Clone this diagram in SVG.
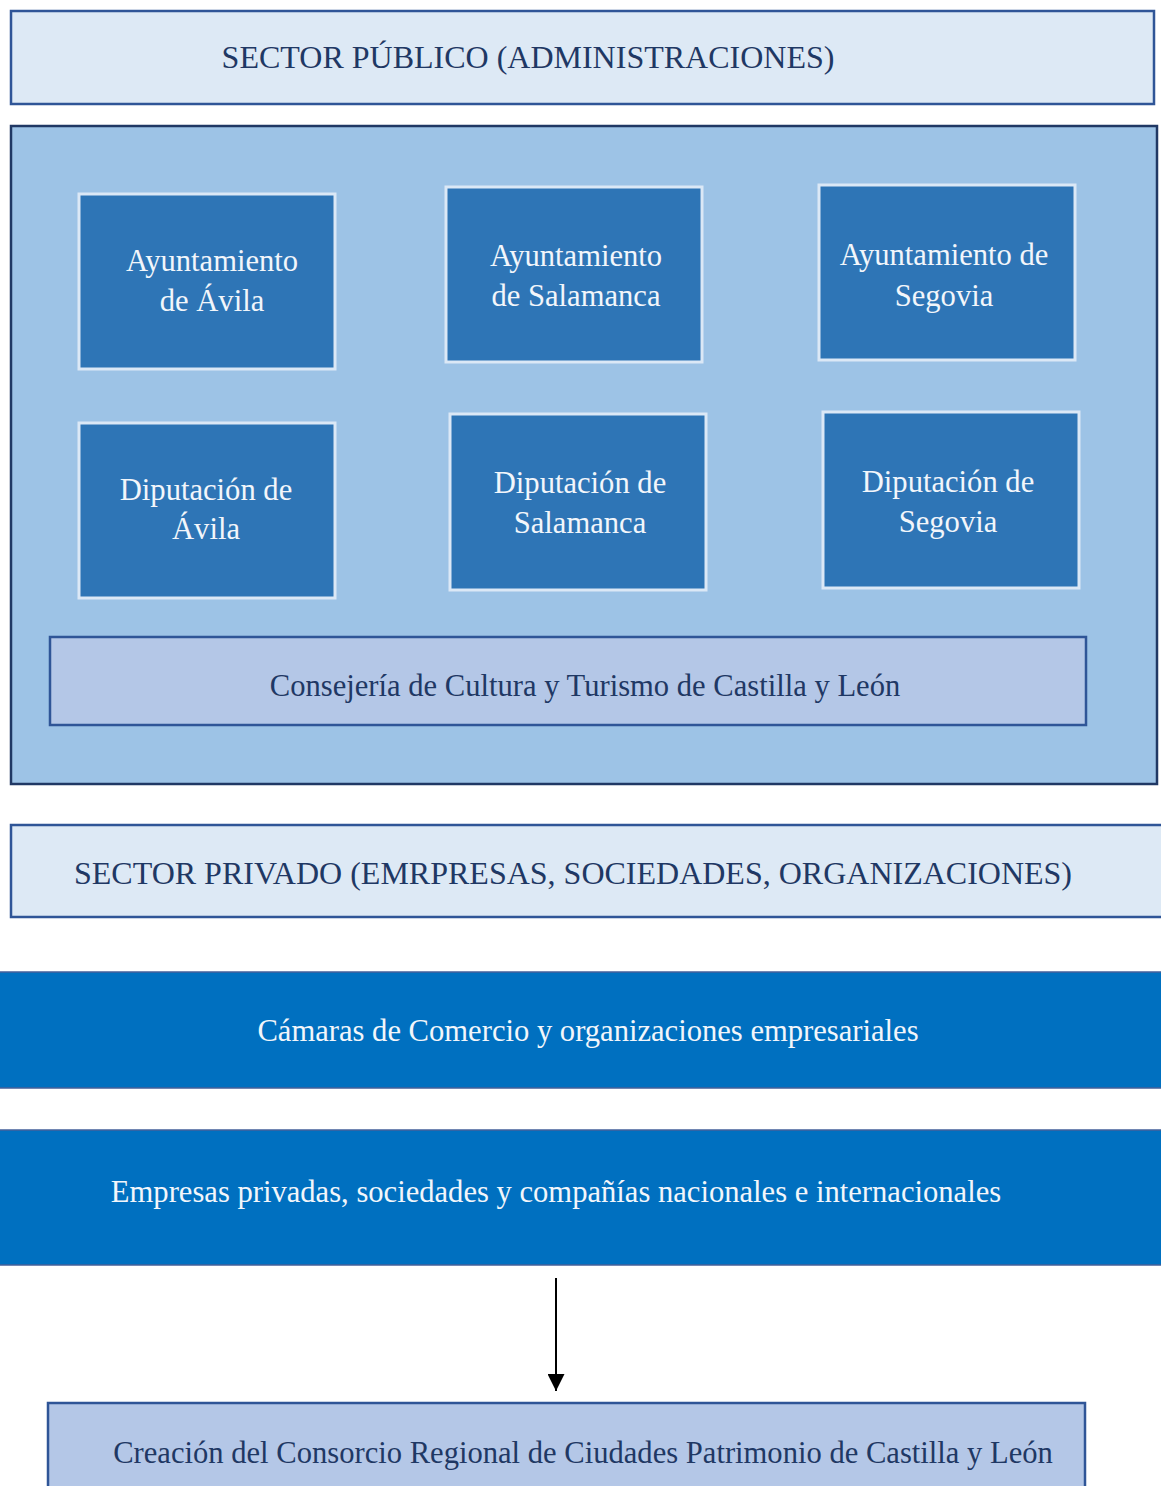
<svg xmlns="http://www.w3.org/2000/svg" width="1161" height="1486" viewBox="0 0 1161 1486">
<defs>
<style>
.hdr{fill:#dde9f5;stroke:#2f5597;stroke-width:2.5}
.inner{fill:#2e75b6;stroke:#dbe8f6;stroke-width:3}
.band{fill:#0070c0;stroke:#44609a;stroke-width:1.5}
.lav{fill:#b4c7e7;stroke:#2f5597;stroke-width:2.5}
.t{font-family:"Liberation Serif","Times New Roman",serif;font-size:30.6px;text-anchor:middle}
.h{font-size:32px}
.dk{fill:#1f3864}
.wt{fill:#f2f6fb}
</style>
<marker id="ah" viewBox="0 0 10 10" refX="10" refY="5" markerWidth="17" markerHeight="17" markerUnits="userSpaceOnUse" orient="auto">
<path d="M0,0 L10,5 L0,10 z" fill="#000"/>
</marker>
</defs>
<rect width="1161" height="1486" fill="#fff"/>
<g id="sector-publico">
<rect class="hdr" x="11" y="11" width="1143" height="93"/>
<text class="t h dk" x="528" y="68">SECTOR PÚBLICO (ADMINISTRACIONES)</text>
</g>
<g id="admin-panel">
<rect x="11" y="126" width="1146" height="658" fill="#9dc3e6" stroke="#203864" stroke-width="2.5"/>
</g>
<g id="ayto-avila">
<rect class="inner" x="79" y="194" width="256" height="175"/>
<text class="t wt" x="212" y="271">Ayuntamiento</text>
<text class="t wt" x="212" y="311">de Ávila</text>
</g>
<g id="ayto-salamanca">
<rect class="inner" x="446" y="187" width="256" height="175"/>
<text class="t wt" x="576" y="266">Ayuntamiento</text>
<text class="t wt" x="576" y="306">de Salamanca</text>
</g>
<g id="ayto-segovia">
<rect class="inner" x="819" y="185" width="256" height="175"/>
<text class="t wt" x="944" y="265">Ayuntamiento de</text>
<text class="t wt" x="944" y="306">Segovia</text>
</g>
<g id="dip-avila">
<rect class="inner" x="79" y="423" width="256" height="175"/>
<text class="t wt" x="206" y="500">Diputación de</text>
<text class="t wt" x="206" y="539">Ávila</text>
</g>
<g id="dip-salamanca">
<rect class="inner" x="450" y="414" width="256" height="176"/>
<text class="t wt" x="580" y="493">Diputación de</text>
<text class="t wt" x="580" y="533">Salamanca</text>
</g>
<g id="dip-segovia">
<rect class="inner" x="823" y="412" width="256" height="176"/>
<text class="t wt" x="948" y="492">Diputación de</text>
<text class="t wt" x="948" y="532">Segovia</text>
</g>
<g id="consejeria">
<rect class="lav" x="50" y="637" width="1036" height="88"/>
<text class="t dk" x="585" y="696">Consejería de Cultura y Turismo de Castilla y León</text>
</g>
<g id="sector-privado">
<rect class="hdr" x="11" y="825" width="1152" height="92"/>
<text class="t h dk" x="573" y="884">SECTOR PRIVADO (EMRPRESAS, SOCIEDADES, ORGANIZACIONES)</text>
</g>
<g id="camaras">
<rect class="band" x="-2" y="972" width="1166" height="116"/>
<text class="t wt" x="588" y="1041">Cámaras de Comercio y organizaciones empresariales</text>
</g>
<g id="empresas">
<rect class="band" x="-2" y="1130" width="1166" height="135"/>
<text class="t wt" x="556" y="1202">Empresas privadas, sociedades y compañías nacionales e internacionales</text>
</g>
<g id="connectors">
<line x1="556" y1="1278" x2="556" y2="1391" stroke="#000" stroke-width="2" marker-end="url(#ah)"/>
</g>
<g id="consorcio">
<rect class="lav" x="48" y="1403" width="1037" height="100"/>
<text class="t dk" x="583" y="1463">Creación del Consorcio Regional de Ciudades Patrimonio de Castilla y León</text>
</g>
</svg>
